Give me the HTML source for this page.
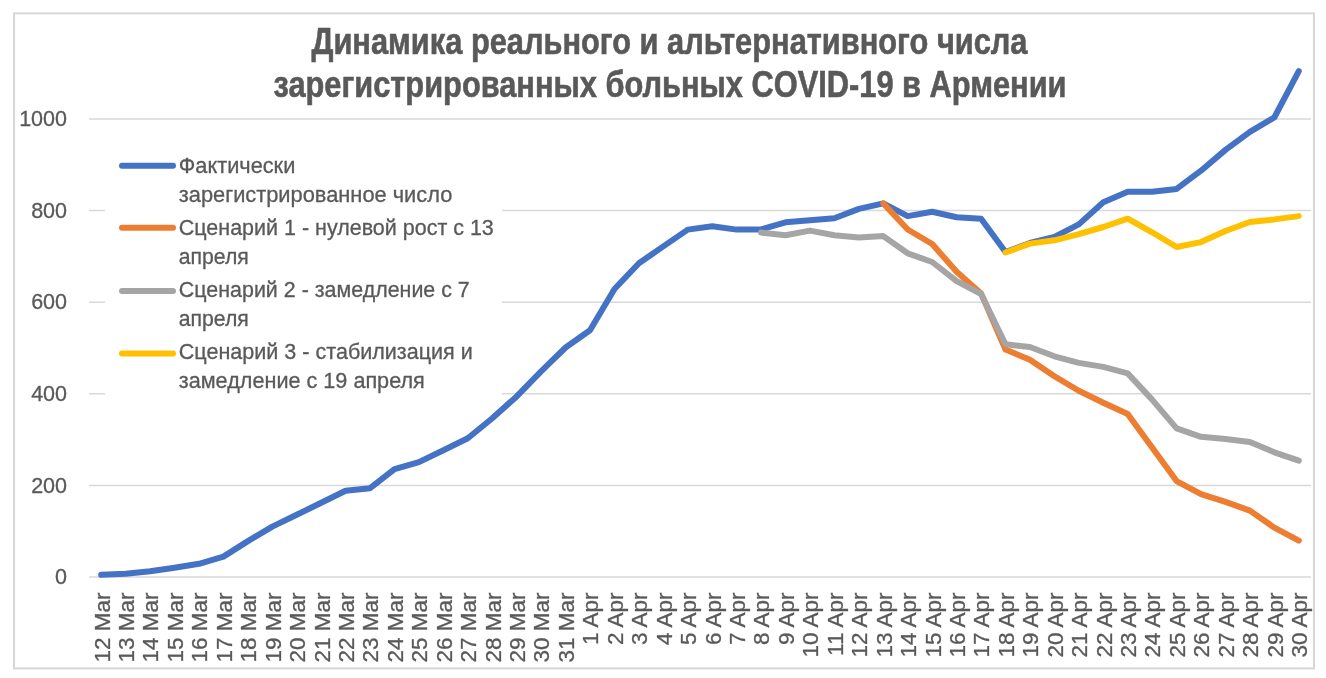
<!DOCTYPE html>
<html><head><meta charset="utf-8">
<style>
html,body{margin:0;padding:0;background:#fff;}
body{width:1326px;height:678px;overflow:hidden;position:relative;}
svg{position:absolute;left:0;top:0;}
text{font-family:"Liberation Sans",sans-serif;fill:#595959;}
.gs{filter:grayscale(1);}
</style></head><body>
<svg width="1326" height="678" viewBox="0 0 1326 678">
<rect x="0" y="0" width="1326" height="678" fill="#fff"/>
<rect x="14" y="13.4" width="1300" height="655" fill="#fff" stroke="#d6d6d6" stroke-width="2"/>
<g stroke="#d9d9d9" stroke-width="1.5">
<line x1="89.0" y1="577.0" x2="1311.0" y2="577.0"/>
<line x1="89.0" y1="485.4" x2="1311.0" y2="485.4"/>
<line x1="89.0" y1="393.8" x2="1311.0" y2="393.8"/>
<line x1="89.0" y1="302.2" x2="1311.0" y2="302.2"/>
<line x1="89.0" y1="210.6" x2="1311.0" y2="210.6"/>
<line x1="89.0" y1="119.0" x2="1311.0" y2="119.0"/>
</g>
<g class="gs" font-size="21.5" stroke="#595959" stroke-width="0.3">
<text x="67" y="584.2" text-anchor="end">0</text>
<text x="67" y="492.6" text-anchor="end">200</text>
<text x="67" y="401.0" text-anchor="end">400</text>
<text x="67" y="309.4" text-anchor="end">600</text>
<text x="67" y="217.8" text-anchor="end">800</text>
<text x="67" y="126.2" text-anchor="end">1000</text>
</g>
<g class="gs" font-size="22.5" stroke="#595959" stroke-width="0.3">
<text transform="translate(109.5,592.5) rotate(-90)" text-anchor="end">12 Mar</text>
<text transform="translate(134.0,592.5) rotate(-90)" text-anchor="end">13 Mar</text>
<text transform="translate(158.4,592.5) rotate(-90)" text-anchor="end">14 Mar</text>
<text transform="translate(182.8,592.5) rotate(-90)" text-anchor="end">15 Mar</text>
<text transform="translate(207.3,592.5) rotate(-90)" text-anchor="end">16 Mar</text>
<text transform="translate(231.7,592.5) rotate(-90)" text-anchor="end">17 Mar</text>
<text transform="translate(256.2,592.5) rotate(-90)" text-anchor="end">18 Mar</text>
<text transform="translate(280.6,592.5) rotate(-90)" text-anchor="end">19 Mar</text>
<text transform="translate(305.0,592.5) rotate(-90)" text-anchor="end">20 Mar</text>
<text transform="translate(329.5,592.5) rotate(-90)" text-anchor="end">21 Mar</text>
<text transform="translate(353.9,592.5) rotate(-90)" text-anchor="end">22 Mar</text>
<text transform="translate(378.4,592.5) rotate(-90)" text-anchor="end">23 Mar</text>
<text transform="translate(402.8,592.5) rotate(-90)" text-anchor="end">24 Mar</text>
<text transform="translate(427.2,592.5) rotate(-90)" text-anchor="end">25 Mar</text>
<text transform="translate(451.7,592.5) rotate(-90)" text-anchor="end">26 Mar</text>
<text transform="translate(476.1,592.5) rotate(-90)" text-anchor="end">27 Mar</text>
<text transform="translate(500.6,592.5) rotate(-90)" text-anchor="end">28 Mar</text>
<text transform="translate(525.0,592.5) rotate(-90)" text-anchor="end">29 Mar</text>
<text transform="translate(549.4,592.5) rotate(-90)" text-anchor="end">30 Mar</text>
<text transform="translate(573.9,592.5) rotate(-90)" text-anchor="end">31 Mar</text>
<text transform="translate(598.3,592.5) rotate(-90)" text-anchor="end">1 Apr</text>
<text transform="translate(622.8,592.5) rotate(-90)" text-anchor="end">2 Apr</text>
<text transform="translate(647.2,592.5) rotate(-90)" text-anchor="end">3 Apr</text>
<text transform="translate(671.6,592.5) rotate(-90)" text-anchor="end">4 Apr</text>
<text transform="translate(696.1,592.5) rotate(-90)" text-anchor="end">5 Apr</text>
<text transform="translate(720.5,592.5) rotate(-90)" text-anchor="end">6 Apr</text>
<text transform="translate(745.0,592.5) rotate(-90)" text-anchor="end">7 Apr</text>
<text transform="translate(769.4,592.5) rotate(-90)" text-anchor="end">8 Apr</text>
<text transform="translate(793.8,592.5) rotate(-90)" text-anchor="end">9 Apr</text>
<text transform="translate(818.3,592.5) rotate(-90)" text-anchor="end">10 Apr</text>
<text transform="translate(842.7,592.5) rotate(-90)" text-anchor="end">11 Apr</text>
<text transform="translate(867.2,592.5) rotate(-90)" text-anchor="end">12 Apr</text>
<text transform="translate(891.6,592.5) rotate(-90)" text-anchor="end">13 Apr</text>
<text transform="translate(916.0,592.5) rotate(-90)" text-anchor="end">14 Apr</text>
<text transform="translate(940.5,592.5) rotate(-90)" text-anchor="end">15 Apr</text>
<text transform="translate(964.9,592.5) rotate(-90)" text-anchor="end">16 Apr</text>
<text transform="translate(989.4,592.5) rotate(-90)" text-anchor="end">17 Apr</text>
<text transform="translate(1013.8,592.5) rotate(-90)" text-anchor="end">18 Apr</text>
<text transform="translate(1038.2,592.5) rotate(-90)" text-anchor="end">19 Apr</text>
<text transform="translate(1062.7,592.5) rotate(-90)" text-anchor="end">20 Apr</text>
<text transform="translate(1087.1,592.5) rotate(-90)" text-anchor="end">21 Apr</text>
<text transform="translate(1111.6,592.5) rotate(-90)" text-anchor="end">22 Apr</text>
<text transform="translate(1136.0,592.5) rotate(-90)" text-anchor="end">23 Apr</text>
<text transform="translate(1160.4,592.5) rotate(-90)" text-anchor="end">24 Apr</text>
<text transform="translate(1184.9,592.5) rotate(-90)" text-anchor="end">25 Apr</text>
<text transform="translate(1209.3,592.5) rotate(-90)" text-anchor="end">26 Apr</text>
<text transform="translate(1233.8,592.5) rotate(-90)" text-anchor="end">27 Apr</text>
<text transform="translate(1258.2,592.5) rotate(-90)" text-anchor="end">28 Apr</text>
<text transform="translate(1282.6,592.5) rotate(-90)" text-anchor="end">29 Apr</text>
<text transform="translate(1307.1,592.5) rotate(-90)" text-anchor="end">30 Apr</text>
</g>
<g class="gs" font-weight="bold" font-size="36" stroke="#595959" stroke-width="0.6">
<text x="311.5" y="53.5" textLength="716" lengthAdjust="spacingAndGlyphs">Динамика реального и альтернативного числа</text>
<text x="273.5" y="96.8" textLength="793" lengthAdjust="spacingAndGlyphs">зарегистрированных больных COVID-19 в Армении</text>
</g>
<rect x="105" y="138" width="397" height="262" fill="#fff"/>
<g stroke-width="6" stroke-linecap="round" fill="none">
<line x1="122" y1="165.8" x2="173" y2="165.8" stroke="#4472c4"/>
<line x1="122" y1="227.8" x2="173" y2="227.8" stroke="#ed7d31"/>
<line x1="122" y1="291.1" x2="173" y2="291.1" stroke="#a5a5a5"/>
<line x1="122" y1="353.5" x2="173" y2="353.5" stroke="#ffc000"/>
</g>
<g class="gs" font-size="21.5" stroke="#595959" stroke-width="0.3">
<text x="178.8" y="172.6" textLength="116.5" lengthAdjust="spacingAndGlyphs">Фактически</text>
<text x="178.8" y="201.8" textLength="273.5" lengthAdjust="spacingAndGlyphs">зарегистрированное число</text>
<text x="178.8" y="234.8" textLength="315" lengthAdjust="spacingAndGlyphs">Сценарий 1 - нулевой рост с 13</text>
<text x="178.8" y="263.6" textLength="70" lengthAdjust="spacingAndGlyphs">апреля</text>
<text x="178.8" y="296.8" textLength="291" lengthAdjust="spacingAndGlyphs">Сценарий 2 - замедление с 7</text>
<text x="178.8" y="326.3" textLength="70" lengthAdjust="spacingAndGlyphs">апреля</text>
<text x="178.8" y="359" textLength="294" lengthAdjust="spacingAndGlyphs">Сценарий 3 - стабилизация и</text>
<text x="178.8" y="388.2" textLength="246" lengthAdjust="spacingAndGlyphs">замедление с 19 апреля</text>
</g>
<g stroke-width="6" stroke-linecap="round" stroke-linejoin="round" fill="none">
<polyline points="101.2,574.8 125.7,573.8 150.1,571.3 174.5,567.8 199.0,563.8 223.4,556.6 247.9,541.1 272.3,526.6 296.7,514.8 321.2,502.8 345.6,490.7 370.1,488.2 394.5,469.1 418.9,462.1 443.4,450.3 467.8,438.3 492.3,418.2 516.7,396.4 541.1,371.4 565.6,347.5 590.0,330.3 614.5,289.0 638.9,263.2 663.3,246.4 687.8,229.6 712.2,226.3 736.7,229.6 761.1,229.5 785.5,222.3 810.0,220.2 834.4,218.2 858.9,208.9 883.3,203.4 907.7,216.1 932.2,211.7 956.6,217.2 981.1,218.8 1005.5,252.0 1029.9,243.0 1054.4,236.8 1078.8,224.4 1103.3,202.2 1127.7,191.8 1152.1,191.8 1176.6,188.9 1201.0,170.7 1225.5,149.9 1249.9,131.8 1274.3,117.5 1298.8,71.1" stroke="#4472c4"/>
<polyline points="883.3,203.4 907.7,229.5 932.2,244.0 956.6,271.8 981.1,293.5 1005.5,349.6 1029.9,359.7 1054.4,376.2 1078.8,390.8 1103.3,402.7 1127.7,414.0 1152.1,447.6 1176.6,481.1 1201.0,494.1 1225.5,501.9 1249.9,510.6 1274.3,527.6 1298.8,540.6" stroke="#ed7d31"/>
<polyline points="761.1,232.6 785.5,235.3 810.0,230.6 834.4,235.3 858.9,237.4 883.3,236.1 907.7,253.3 932.2,262.0 956.6,281.1 981.1,294.0 1005.5,344.3 1029.9,347.0 1054.4,356.3 1078.8,362.9 1103.3,366.9 1127.7,373.4 1152.1,399.6 1176.6,428.4 1201.0,436.8 1225.5,439.0 1249.9,442.1 1274.3,452.3 1298.8,460.7" stroke="#a5a5a5"/>
<polyline points="1005.5,252.5 1029.9,243.6 1054.4,240.3 1078.8,234.1 1103.3,227.0 1127.7,218.7 1152.1,232.3 1176.6,247.0 1201.0,242.1 1225.5,231.0 1249.9,222.0 1274.3,219.4 1298.8,216.1" stroke="#ffc000"/>
</g>
</svg>
</body></html>
